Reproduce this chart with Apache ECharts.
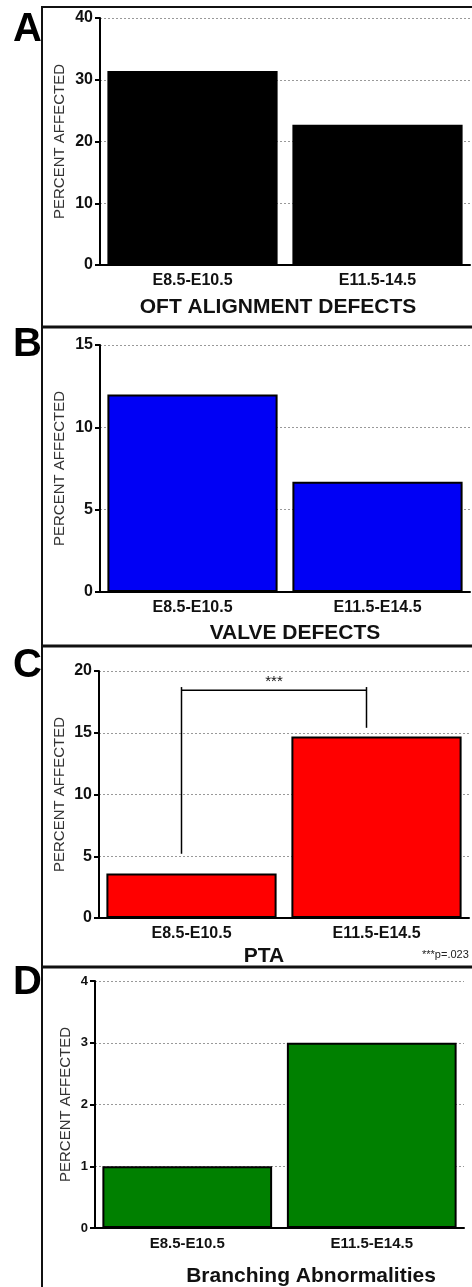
<!DOCTYPE html>
<html><head><meta charset="utf-8">
<script src="https://cdn.jsdelivr.net/npm/echarts@6/dist/echarts.min.js"></script>
<style>html,body{margin:0;padding:0;background:#fff}#c{width:472px;height:1287px}</style>
</head><body><div id="c"></div>
<script>
// ---- data ----
const categoriesA = ['E8.5-E10.5', 'E11.5-14.5'];
const categoriesB = ['E8.5-E10.5', 'E11.5-E14.5'];
const categoriesC = ['E8.5-E10.5', 'E11.5-E14.5'];
const categoriesD = ['E8.5-E10.5', 'E11.5-E14.5'];
const oftValues = [31.4, 22.7];
const valveValues = [12.0, 6.7];
const ptaValues = [3.6, 14.7];
const branchingValues = [1.0, 3.0];
const yMaxes = [40, 15, 20, 4];
const yIntervals = [10, 5, 5, 1];
const panelLetters = ['A', 'B', 'C', 'D'];
const panelTitles = ['OFT ALIGNMENT DEFECTS', 'VALVE DEFECTS', 'PTA', 'Branching Abnormalities'];
const yAxisName = 'PERCENT AFFECTED';
// significance bracket in panel C: [fromIndex, toIndex, leftBottom, rightBottom, top, barLevel]
const sigBracket = [0, 1, 5.2, 15.4, 18.7, 18.45];
const sigLabel = '***';
const pNote = '***p=.023';

const FF = '"Liberation Sans", Arial, sans-serif';
const chart = echarts.init(document.getElementById('c'), null, {renderer: 'canvas'});

const grids = [
  {left: 100, top: 18, width: 370, height: 247},
  {left: 100, top: 345, width: 370, height: 247},
  {left: 99, top: 671, width: 370, height: 247},
  {left: 95, top: 981, width: 369, height: 247}
];
const cats = [categoriesA, categoriesB, categoriesC, categoriesD];
const vals = [oftValues, valveValues, ptaValues, branchingValues];
const colors = ['#000000', '#0000f5', '#ff0000', '#008000'];
const tickFont = [16, 16, 16, 13];
const catFont = [16, 16, 16, 15];
const nameGaps = [33, 33, 32, 22];

const xAxes = cats.map((c, i) => ({
  type: 'category', gridIndex: i, data: c,
  axisLine: {lineStyle: {color: '#000', width: 2}},
  axisTick: {alignWithLabel: true, length: 4, lineStyle: {color: '#000', width: 2}},
  axisLabel: {color: '#111', fontFamily: FF, fontWeight: 'bold', fontSize: catFont[i], margin: 8},
  splitLine: {show: false}
}));
const yAxes = yMaxes.map((m, i) => ({
  type: 'value', gridIndex: i, min: 0, max: m, interval: yIntervals[i],
  name: yAxisName, nameLocation: 'middle', nameGap: nameGaps[i], nameMoveOverlap: false,
  nameTextStyle: {fontFamily: FF, fontSize: 15, color: '#333'},
  axisLine: {show: true, lineStyle: {color: '#000', width: 2}},
  axisTick: {show: true, length: 5, lineStyle: {color: '#000', width: 2}},
  axisLabel: {color: '#111', fontFamily: FF, fontWeight: 'bold', fontSize: tickFont[i], margin: 7},
  splitLine: {show: true, lineStyle: {color: '#999', width: 1, type: [2, 2]}}
}));
const series = vals.map((v, i) => ({
  type: 'bar', xAxisIndex: i, yAxisIndex: i, data: v,
  barCategoryGap: '8%',
  itemStyle: {color: colors[i], borderColor: '#000', borderWidth: 2},
  z: 3
}));
series.push({
  type: 'custom', xAxisIndex: 2, yAxisIndex: 2, z: 4,
  data: [sigBracket],
  renderItem: (params, api) => {
    const off = -10;
    const xl = api.coord([api.value(0), 0])[0] + off;
    const xr = api.coord([api.value(1), 0])[0] + off;
    const yLB = api.coord([0, api.value(2)])[1];
    const yRB = api.coord([0, api.value(3)])[1];
    const yT = api.coord([0, api.value(4)])[1];
    const yH = api.coord([0, api.value(5)])[1];
    const ls = {stroke: '#000', lineWidth: 1.5};
    return {type: 'group', children: [
      {type: 'line', shape: {x1: xl, y1: yLB, x2: xl, y2: yT}, style: ls},
      {type: 'line', shape: {x1: xr, y1: yRB, x2: xr, y2: yT}, style: ls},
      {type: 'line', shape: {x1: xl, y1: yH, x2: xr, y2: yH}, style: ls},
      {type: 'text', x: (xl + xr) / 2, y: yH - 1, style: {text: sigLabel, font: '15px ' + FF, fill: '#111', textAlign: 'center', textVerticalAlign: 'bottom'}}
    ]};
  }
});

const graphic = [];
// frame
graphic.push({type: 'line', shape: {x1: 42, y1: 6, x2: 42, y2: 1287}, style: {stroke: '#111', lineWidth: 2}, z: 10});
[7, 327, 646, 967].forEach(y => graphic.push({type: 'line', shape: {x1: 42, y1: y, x2: 472, y2: y}, style: {stroke: '#111', lineWidth: y === 7 ? 2 : 3}, z: 10}));
// letters (cap centers)
const letterMids = [29.5, 345, 665.5, 982.5];
panelLetters.forEach((L, i) => graphic.push({type: 'text', x: 13, y: letterMids[i], z: 11,
  style: {text: L, font: 'bold 40px ' + FF, fill: '#000', textAlign: 'left', textVerticalAlign: 'middle'}}));
// titles
const titlePos = [[278, 307], [295, 633], [264, 956], [311, 1276]];
panelTitles.forEach((t, i) => graphic.push({type: 'text', x: titlePos[i][0], y: titlePos[i][1], z: 11,
  style: {text: t, font: 'bold 21px ' + FF, fill: '#111', textAlign: 'center', textVerticalAlign: 'middle'}}));
graphic.push({type: 'text', x: 422, y: 955, z: 11,
  style: {text: pNote, font: '11px ' + FF, fill: '#222', textAlign: 'left', textVerticalAlign: 'middle'}});

chart.setOption({
  animation: false,
  backgroundColor: '#fff',
  grid: grids,
  xAxis: xAxes,
  yAxis: yAxes,
  series: series,
  graphic: graphic
});
</script>
</body></html>
